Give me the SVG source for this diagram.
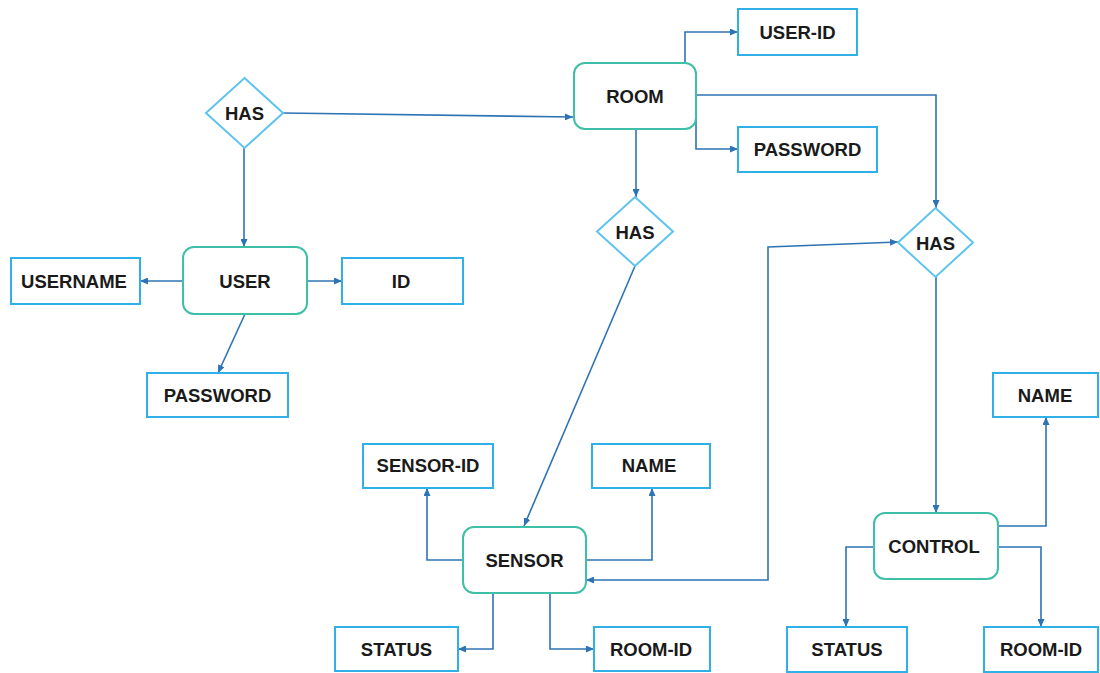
<svg xmlns="http://www.w3.org/2000/svg" width="1100" height="673" viewBox="0 0 1100 673">
  <style>
    .entity { fill: #ffffff; stroke: #3dbfa8; stroke-width: 2; }
    .attr { fill: #ffffff; stroke: #2fb0e6; stroke-width: 2; }
    .rel { fill: #ffffff; stroke: #5cc4ee; stroke-width: 2; }
    .lbl { font-family: "Liberation Sans", Arial, sans-serif; font-weight: bold; font-size: 18.5px; fill: #1a1a1a; text-anchor: middle; }
    .conn { fill: none; stroke: #2e74b5; stroke-width: 1.6; marker-end: url(#arrow); }
  </style>
  <defs>
    <marker id="arrow" viewBox="0 0 8 7" markerWidth="8" markerHeight="7" refX="8" refY="3.5" orient="auto-start-reverse" markerUnits="userSpaceOnUse">
      <path d="M0,0 L8,3.5 L0,7 z" fill="#2e74b5"/>
    </marker>
  </defs>
  <rect width="1100" height="673" fill="#ffffff"/>

  <!-- connectors -->
  <g id="connectors">
    <path class="conn" d="M283,113 L573,117"/>
    <path class="conn" d="M244,148 L244,247"/>
    <path class="conn" d="M183,281 L140,281"/>
    <path class="conn" d="M307,281 L342,281"/>
    <path class="conn" d="M245,314 L218,373"/>
    <path class="conn" d="M685,63 L685,32 L738,32"/>
    <path class="conn" d="M696,118 L696,149 L738,149"/>
    <path class="conn" d="M697,95 L936,95 L936,208"/>
    <path class="conn" d="M636,129 L636,197"/>
    <path class="conn" d="M635,266 L524,526"/>
    <path class="conn" style="marker-start: url(#arrow);" d="M586,580 L768,580 L768,247 L898,242"/>
    <path class="conn" d="M936,277 L936,513"/>
    <path class="conn" d="M998,526 L1046,526 L1046,417"/>
    <path class="conn" d="M874,547 L846,547 L846,627"/>
    <path class="conn" d="M998,547 L1041,547 L1041,627"/>
    <path class="conn" d="M463,560 L427,560 L427,488"/>
    <path class="conn" d="M586,560 L652,560 L652,488"/>
    <path class="conn" d="M493,593 L493,649 L458,649"/>
    <path class="conn" d="M550,593 L550,649 L594,649"/>
  </g>

  <!-- relationships -->
  <g id="has-user-room">
    <polygon class="rel" points="244.5,78 283,113 244.5,148 206,113"/>
    <text class="lbl" x="244.5" y="120">HAS</text>
  </g>
  <g id="has-room-sensor">
    <polygon class="rel" points="635,197 673,231.5 635,266 597,231.5"/>
    <text class="lbl" x="635" y="238.5">HAS</text>
  </g>
  <g id="has-room-control">
    <polygon class="rel" points="935.5,208 973,242.5 935.5,277 898,242.5"/>
    <text class="lbl" x="935.5" y="249.5">HAS</text>
  </g>

  <!-- entities -->
  <g id="room">
    <rect class="entity" x="574" y="63" width="122" height="66" rx="11"/>
    <text class="lbl" x="635" y="103">ROOM</text>
  </g>
  <g id="user">
    <rect class="entity" x="183" y="247" width="124" height="67" rx="11"/>
    <text class="lbl" x="245" y="288">USER</text>
  </g>
  <g id="sensor">
    <rect class="entity" x="463" y="527" width="123" height="66" rx="11"/>
    <text class="lbl" x="524.5" y="567">SENSOR</text>
  </g>
  <g id="control">
    <rect class="entity" x="874" y="513" width="124" height="66" rx="11"/>
    <text class="lbl" x="934" y="553">CONTROL</text>
  </g>

  <!-- attributes -->
  <g id="room-user-id">
    <rect class="attr" x="738" y="9" width="119" height="46"/>
    <text class="lbl" x="797.5" y="39">USER-ID</text>
  </g>
  <g id="room-password">
    <rect class="attr" x="738" y="127" width="139" height="45"/>
    <text class="lbl" x="807.5" y="156">PASSWORD</text>
  </g>
  <g id="user-username">
    <rect class="attr" x="11" y="258" width="129" height="46"/>
    <text class="lbl" x="74" y="288">USERNAME</text>
  </g>
  <g id="user-id">
    <rect class="attr" x="342" y="258" width="121" height="46"/>
    <text class="lbl" x="401" y="288">ID</text>
  </g>
  <g id="user-password">
    <rect class="attr" x="147" y="373" width="141" height="44"/>
    <text class="lbl" x="217.5" y="402">PASSWORD</text>
  </g>
  <g id="sensor-sensor-id">
    <rect class="attr" x="363" y="444" width="130" height="44"/>
    <text class="lbl" x="428" y="472">SENSOR-ID</text>
  </g>
  <g id="sensor-name">
    <rect class="attr" x="592" y="444" width="118" height="44"/>
    <text class="lbl" x="649" y="472">NAME</text>
  </g>
  <g id="sensor-status">
    <rect class="attr" x="335" y="627" width="123" height="44"/>
    <text class="lbl" x="396.5" y="656">STATUS</text>
  </g>
  <g id="sensor-room-id">
    <rect class="attr" x="594" y="627" width="116" height="44"/>
    <text class="lbl" x="651" y="656">ROOM-ID</text>
  </g>
  <g id="control-name">
    <rect class="attr" x="993" y="373" width="105" height="44"/>
    <text class="lbl" x="1045" y="402">NAME</text>
  </g>
  <g id="control-status">
    <rect class="attr" x="787" y="627" width="120" height="45"/>
    <text class="lbl" x="847" y="656">STATUS</text>
  </g>
  <g id="control-room-id">
    <rect class="attr" x="984" y="627" width="114" height="45"/>
    <text class="lbl" x="1041" y="656">ROOM-ID</text>
  </g>
</svg>
